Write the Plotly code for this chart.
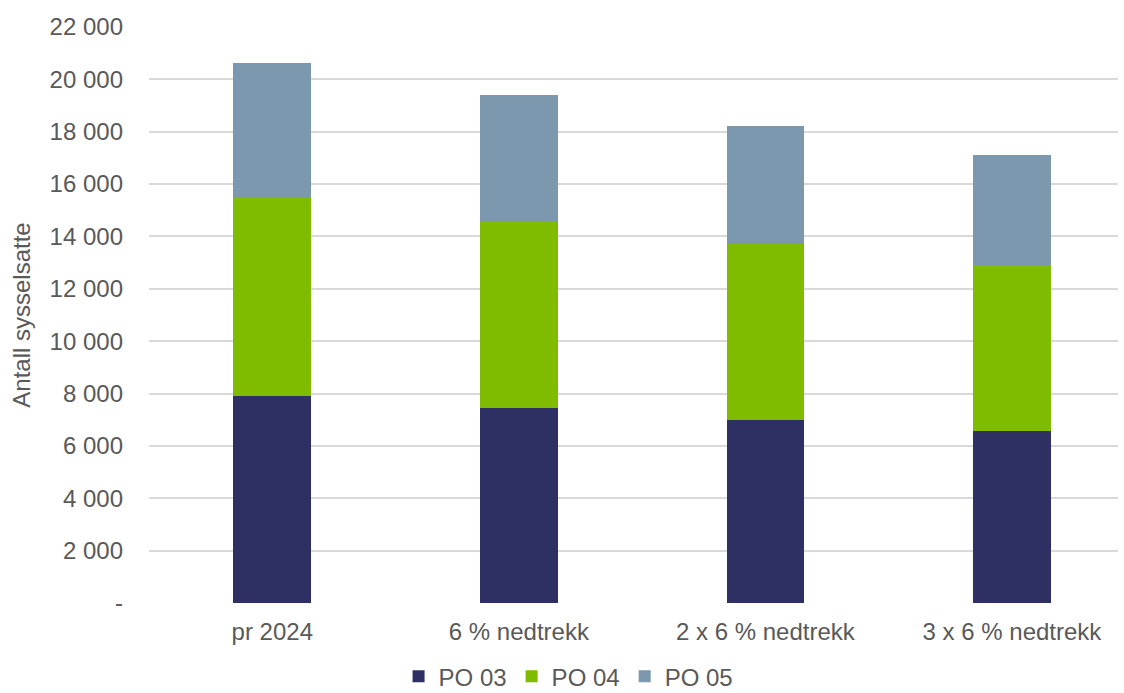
import plotly.graph_objects as go

categories = ["pr 2024", "6 % nedtrekk", "2 x 6 % nedtrekk", "3 x 6 % nedtrekk"]
po03 = [7910, 7450, 6980, 6560]
po04 = [7600, 7140, 6730, 6350]
po05 = [5130, 4825, 4520, 4220]
series_names = ["PO 03", "PO 04", "PO 05"]
colors = ["#2E3063", "#7FBC00", "#7B98AE"]
tick_vals = [0, 2000, 4000, 6000, 8000, 10000, 12000, 14000, 16000, 18000, 20000, 22000]
tick_text = ["-", "2 000", "4 000", "6 000", "8 000", "10 000", "12 000", "14 000",
             "16 000", "18 000", "20 000", "22 000"]

fig = go.Figure()
for name, vals, col in zip(series_names, [po03, po04, po05], colors):
    fig.add_trace(go.Bar(x=categories, y=vals, name=name, marker_color=col,
                         marker_line_width=0, width=0.315))

font = dict(family="Liberation Sans, Arial, sans-serif", size=24, color="#595959")
fig.update_layout(
    barmode="stack",
    width=1124, height=693,
    margin=dict(l=149, r=6, t=27, b=90, autoexpand=False),
    paper_bgcolor="white", plot_bgcolor="white",
    font=font,
    showlegend=True,
    legend=dict(orientation="h", x=0.433, xanchor="center", y=-0.128, yanchor="middle",
                font=font, itemwidth=30, traceorder="normal",
                bgcolor="rgba(0,0,0,0)"),
    xaxis=dict(range=[-0.5, 3.43], showgrid=False, zeroline=False, showline=False,
               ticks="", tickfont=font, automargin=False, ticklabelstandoff=12),
    yaxis=dict(range=[0, 22000], tickvals=tick_vals, ticktext=tick_text,
               showgrid=True, gridcolor="#D9D9D9", gridwidth=1.5, zeroline=False,
               showline=False, ticks="", ticklabelstandoff=25, tickfont=font,
               automargin=False,
               title=dict(text="Antall sysselsatte", font=font, standoff=12)),
)
fig.write_html("out.html", post_script="document.body.style.margin='0px';",
               config={"displayModeBar": False})
